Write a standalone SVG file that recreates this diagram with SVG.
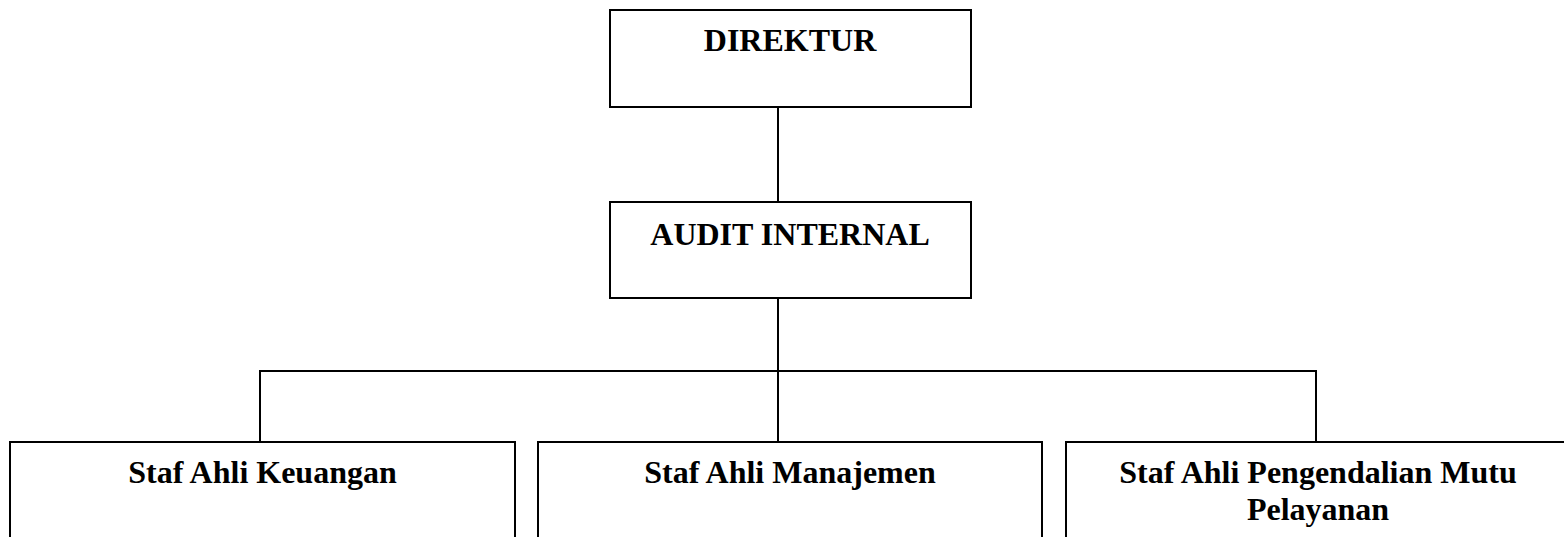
<svg xmlns="http://www.w3.org/2000/svg" width="1564" height="537" viewBox="0 0 1564 537">
<style>
.box{fill:#fff;stroke:#000;stroke-width:2}
.conn{fill:none;stroke:#000;stroke-width:2}
.t{font-family:"Liberation Serif","Times New Roman",serif;font-weight:bold;font-size:32px;text-anchor:middle;fill:#000}
</style>
<rect width="1564" height="537" fill="#fff"/>
<g id="connectors">
<line class="conn" x1="778" y1="107" x2="778" y2="202"/>
<line class="conn" x1="778" y1="298" x2="778" y2="442"/>
<polyline class="conn" points="260,442 260,371 1316,371 1316,442"/>
</g>
<g id="direktur">
<rect class="box" x="610" y="10" width="361" height="97"/>
<text class="t" x="790" y="51">DIREKTUR</text>
</g>
<g id="audit-internal">
<rect class="box" x="610" y="202" width="361" height="96"/>
<text class="t" x="790" y="245">AUDIT INTERNAL</text>
</g>
<g id="staf-keuangan">
<rect class="box" x="10" y="442" width="505" height="110"/>
<text class="t" x="262.5" y="483">Staf Ahli Keuangan</text>
</g>
<g id="staf-manajemen">
<rect class="box" x="538" y="442" width="504" height="110"/>
<text class="t" x="790" y="483">Staf Ahli Manajemen</text>
</g>
<g id="staf-mutu">
<rect class="box" x="1066" y="442" width="504" height="110"/>
<text class="t" x="1318" y="483">Staf Ahli Pengendalian Mutu</text>
<text class="t" x="1318" y="520">Pelayanan</text>
</g>
</svg>
